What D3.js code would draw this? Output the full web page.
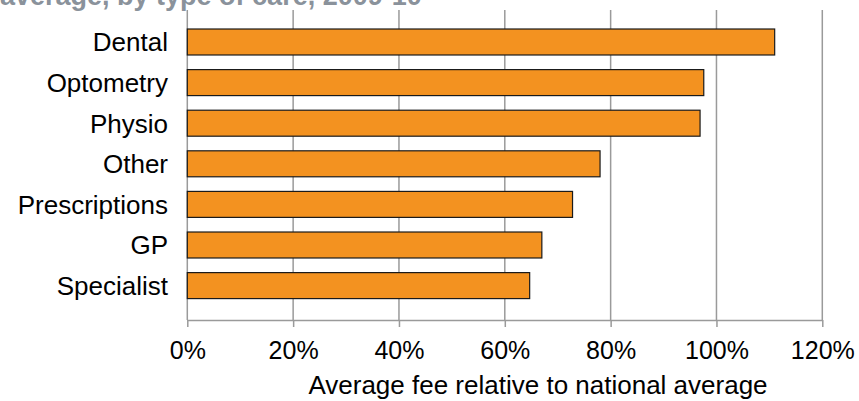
<!DOCTYPE html>
<html>
<head>
<meta charset="utf-8">
<script src="https://cdn.jsdelivr.net/npm/d3@7"></script>
<style>
  html, body { margin: 0; padding: 0; background: #fff; }
  svg { display: block; font-family: Arial, "Liberation Sans", sans-serif; }
</style>
</head>
<body>
<svg id="chart" width="859" height="401"></svg>
<script>
// Care types, top to bottom
const categories = ["Dental", "Optometry", "Physio", "Other", "Prescriptions", "GP", "Specialist"];
// Average fee as a percentage of the national average
const feePct = [111, 97.6, 96.9, 78, 72.8, 67, 64.7];
// Axis ticks (percent)
const tickValues = [0, 20, 40, 60, 80, 100, 120];
const titleText = "average, by type of care, 2009-10";
const axisTitle = "Average fee relative to national average";

const svg = d3.select("#chart");

const x = d3.scaleLinear().domain([0, 120]).range([187.3, 822.3]);
const y = d3.scaleBand()
  .domain(categories)
  .range([21.7, 305.9])
  .paddingInner(0.36)
  .paddingOuter(0.18);

const plotTop = 10, plotBottom = 320;
const gridColor = "#9a9a9a";

// Chart title (its upper part runs past the top edge)
svg.append("text")
  .attr("x", 0)
  .attr("y", 5)
  .attr("fill", "#8a929b")
  .attr("font-weight", "bold")
  .attr("font-size", 27)
  .text(titleText);

// Vertical gridlines
svg.append("g")
  .selectAll("line")
  .data(tickValues)
  .join("line")
  .attr("x1", d => x(d)).attr("x2", d => x(d))
  .attr("y1", plotTop).attr("y2", plotBottom)
  .attr("stroke", gridColor)
  .attr("stroke-width", 1.5);

// Bottom axis
const xAxis = d3.axisBottom(x)
  .tickValues(tickValues)
  .tickFormat(d => d + "%")
  .tickSizeInner(7)
  .tickSizeOuter(0)
  .tickPadding(14);

const gx = svg.append("g")
  .attr("transform", `translate(0,${plotBottom})`)
  .call(xAxis);
gx.select(".domain").attr("stroke", gridColor).attr("stroke-width", 1.5);
gx.selectAll(".tick line").attr("stroke", gridColor).attr("stroke-width", 1.5);
gx.selectAll(".tick text")
  .attr("fill", "#000")
  .attr("font-size", 25)
  .attr("font-family", "Arial, 'Liberation Sans', sans-serif");

// Bars
svg.append("g")
  .selectAll("rect")
  .data(categories.map((c, i) => ({ c, v: feePct[i] })))
  .join("rect")
  .attr("x", x(0))
  .attr("y", d => y(d.c))
  .attr("width", d => x(d.v) - x(0))
  .attr("height", y.bandwidth())
  .attr("fill", "#f39220")
  .attr("stroke", "#1a1a1a")
  .attr("stroke-width", 1.2);

// Category labels
svg.append("g")
  .selectAll("text")
  .data(categories)
  .join("text")
  .attr("x", 168)
  .attr("y", d => y(d) + y.bandwidth() / 2)
  .attr("dy", "0.36em")
  .attr("text-anchor", "end")
  .attr("font-size", 26)
  .attr("fill", "#000")
  .text(d => d);

// Axis title
svg.append("text")
  .attr("x", 538)
  .attr("y", 394)
  .attr("text-anchor", "middle")
  .attr("font-size", 26)
  .attr("fill", "#000")
  .text(axisTitle);
</script>
</body>
</html>
